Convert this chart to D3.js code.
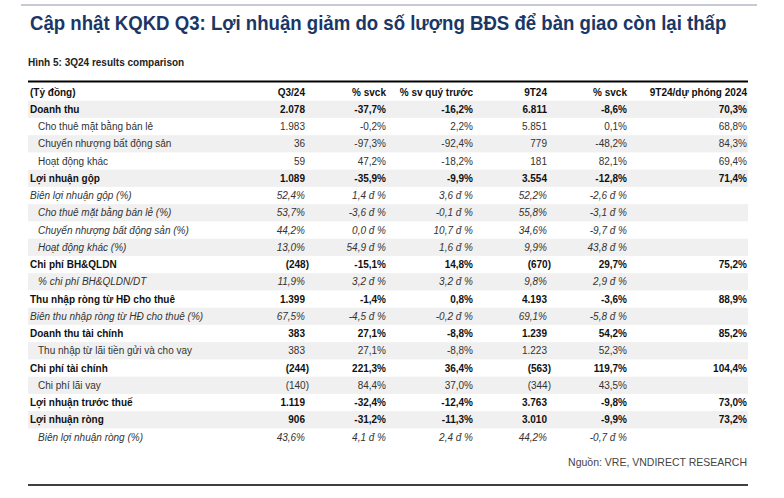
<!DOCTYPE html>
<html><head><meta charset="utf-8">
<script src="https://cdn.jsdelivr.net/npm/d3@7"></script>
<style>body{margin:0;background:#fff}svg{display:block}</style>
</head><body>
<svg id="c" width="784" height="498"></svg>
<script>
const title = "Cập nhật KQKD Q3: Lợi nhuận giảm do số lượng BĐS để bàn giao còn lại thấp";
const subtitle = "Hình 5: 3Q24 results comparison";
const source = "Nguồn: VRE, VNDIRECT RESEARCH";
const headers = ["(Tỷ đồng)", "Q3/24", "% svck", "% sv quý trước", "9T24", "% svck", "9T24/dự phóng 2024"];
const rowLabels = [
  "Doanh thu","Cho thuê mặt bằng bán lẻ","Chuyển nhượng bất động sản","Hoạt động khác",
  "Lợi nhuận gộp","Biên lợi nhuận gộp (%)","Cho thuê mặt bằng bán lẻ (%)","Chuyển nhượng bất động sản (%)",
  "Hoạt động khác (%)","Chi phí BH&QLDN","% chi phí BH&QLDN/DT","Thu nhập ròng từ HĐ cho thuê",
  "Biên thu nhập ròng từ HĐ cho thuê (%)","Doanh thu tài chính","Thu nhập từ lãi tiền gửi và cho vay",
  "Chi phí tài chính","Chi phí lãi vay","Lợi nhuận trước thuế","Lợi nhuận ròng","Biên lợi nhuận ròng (%)"
];
// b = bold, n = normal, i = italic
const rowTypes = ["b","n","n","n","b","i","i","i","i","b","i","b","i","b","n","b","n","b","b","i"];
const rowIndent = [0,1,1,1,0,0,1,1,1,0,1,0,0,0,1,0,1,0,0,1];
const q324 = ["2.078","1.983","36","59","1.089","52,4%","53,7%","44,2%","13,0%","(248)","11,9%","1.399","67,5%","383","383","(244)","(140)","1.119","906","43,6%"];
const svck = ["-37,7%","-0,2%","-97,3%","47,2%","-35,9%","1,4 đ %","-3,6 đ %","0,0 đ %","54,9 đ %","-15,1%","3,2 đ %","-1,4%","-4,5 đ %","27,1%","27,1%","221,3%","84,4%","-32,4%","-31,2%","4,1 đ %"];
const svQuyTruoc = ["-16,2%","2,2%","-92,4%","-18,2%","-9,9%","3,6 đ %","-0,1 đ %","10,7 đ %","1,6 đ %","14,8%","3,2 đ %","0,8%","-0,2 đ %","-8,8%","-8,8%","36,4%","37,0%","-12,4%","-11,3%","2,4 đ %"];
const t924 = ["6.811","5.851","779","181","3.554","52,2%","55,8%","34,6%","9,9%","(670)","9,8%","4.193","69,1%","1.239","1.223","(563)","(344)","3.763","3.010","44,2%"];
const svck9 = ["-8,6%","0,1%","-48,2%","82,1%","-12,8%","-2,6 đ %","-3,1 đ %","-9,7 đ %","43,8 đ %","29,7%","2,9 đ %","-3,6%","-5,8 đ %","54,2%","52,3%","119,7%","43,5%","-9,8%","-9,9%","-0,7 đ %"];
const vsForecast = ["70,3%","68,8%","84,3%","69,4%","71,4%","","","","","75,2%","","88,9%","","85,2%","","104,4%","","73,0%","73,2%",""];

const columns = [q324, svck, svQuyTruoc, t924, svck9, vsForecast];
const svg = d3.select("#c");
const font = "'Liberation Sans', Arial, sans-serif";

const L = 28, R = 748;
// top rule
svg.append("line").attr("x1",21).attr("x2",757).attr("y1",5).attr("y2",5)
  .attr("stroke","#c9c9d6").attr("stroke-width",2);
const tg = svg.append("g").attr("transform","translate(30,30)");
const t = tg.append("text").attr("x",0).attr("y",0).text(title)
  .attr("font-family",font).attr("font-weight","bold").attr("font-size",21).attr("fill","#1a3765");
const tw = t.node().getComputedTextLength();
const sx = Math.min(1, 697 / tw);
tg.attr("transform",`translate(30,30) scale(${sx},1)`);
const sg = svg.append("g").attr("transform","translate(28,66)");
const st = sg.append("text").attr("x",0).attr("y",0).text(subtitle)
  .attr("font-family",font).attr("font-weight","bold").attr("font-size",10).attr("fill","#222");
const ssx = Math.min(1, 165 / st.node().getComputedTextLength());
sg.attr("transform",`translate(28,66) scale(${ssx},1)`);

const nRows = rowLabels.length + 1;
const y = d3.scaleBand().domain(d3.range(nRows)).range([83.4, 83.4 + nRows*17.25]).padding(0);
const colRight = d3.scaleOrdinal().domain(d3.range(6)).range([305, 386, 473, 547, 627, 747]);

// stripes
svg.append("g").selectAll("rect").data(d3.range(rowLabels.length).filter(i => i % 2 === 0))
  .join("rect").attr("x",L).attr("width",R-L).attr("y",i => y(i+1)).attr("height",y.bandwidth())
  .attr("fill","#f0f0f0");

// header rule
svg.append("line").attr("x1",L).attr("x2",R).attr("y1",81.5).attr("y2",81.5)
  .attr("stroke","#000").attr("stroke-width",2.2);

const g = svg.append("g").attr("font-family",font).attr("font-size",10);
// header
headers.forEach((h,i) => {
  g.append("text").attr("x", i===0 ? 30 : colRight(i-1)).attr("y", y(0)+y.bandwidth()/2)
    .attr("dy","0.35em").attr("text-anchor", i===0 ? "start":"end")
    .attr("font-weight","bold").attr("fill","#111").text(h);
});
// rows
rowLabels.forEach((lab,r) => {
  const type = rowTypes[r];
  const cy = y(r+1) + y.bandwidth()/2;
  const style = sel => sel.attr("font-weight", type==="b" ? "bold":"normal")
    .attr("font-style", type==="i" ? "italic":"normal")
    .attr("fill", type==="b" ? "#111" : "#333");
  g.append("text").attr("x", rowIndent[r] ? 38 : 30).attr("y", cy).attr("dy","0.35em").text(lab).call(style);
  columns.forEach((col,c) => {
    const v = col[r];
    if (!v) return;
    const paren = v.startsWith("(");
    g.append("text").attr("x", colRight(c) + (paren ? 4 : 0)).attr("y", cy).attr("dy","0.35em")
      .attr("text-anchor","end").text(v).call(style);
  });
});

// source
svg.append("text").attr("x",747).attr("y",466).attr("text-anchor","end").text(source)
  .attr("font-family",font).attr("font-size",10.5).attr("fill","#444");
svg.append("line").attr("x1",L).attr("x2",R).attr("y1",485).attr("y2",485)
  .attr("stroke","#000").attr("stroke-width",1.5);
</script>
</body></html>
